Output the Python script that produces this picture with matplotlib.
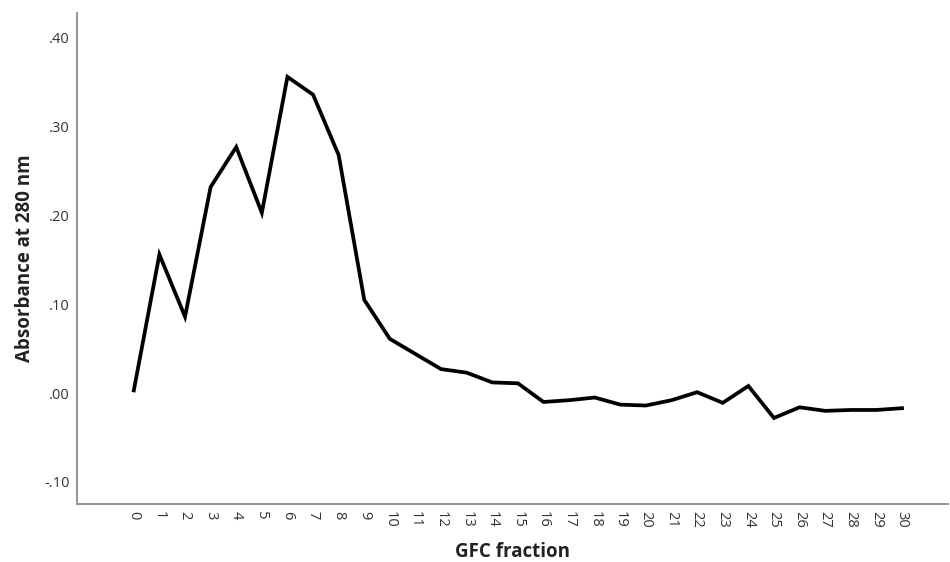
import numpy as np
import matplotlib
matplotlib.use("Agg")
import matplotlib.pyplot as plt
from matplotlib.ticker import FuncFormatter

plt.rcParams['font.family'] = ['Open Sans', 'DejaVu Sans']

fractions = list(range(31))
absorbance = [0.003, 0.156, 0.086, 0.232, 0.277, 0.203, 0.356, 0.336, 0.268, 0.105,
              0.061, 0.044, 0.027, 0.023, 0.012, 0.011, -0.010, -0.008, -0.005, -0.013,
              -0.014, -0.008, 0.001, -0.011, 0.008, -0.028, -0.016, -0.020, -0.019, -0.019,
              -0.017]
y_ticks = [-0.10, 0.00, 0.10, 0.20, 0.30, 0.40]


def spss_fmt(v, pos):
    # SPSS style: no leading zero
    s = f"{v:.2f}"
    return s.replace("0.", ".", 1)


fig = plt.figure(figsize=(9.5, 5.62), dpi=100)
ax = fig.add_axes([0.081, 0.103, 0.917, 0.874])

ax.plot(fractions, absorbance, color="black", lw=2.7, solid_joinstyle="miter")

ax.set_xlim(-2.22, 31.8)
ax.set_ylim(-0.125, 0.428)
ax.set_xticks(fractions)
ax.set_xticklabels([str(f) for f in fractions], rotation=-90, fontsize=10.5, color="#333333")
ax.set_yticks(y_ticks)
ax.yaxis.set_major_formatter(FuncFormatter(spss_fmt))
ax.tick_params(axis="y", labelsize=10.5, labelcolor="#333333", length=0, pad=5)
ax.tick_params(axis="x", length=0, pad=5)

for s in ["top", "right"]:
    ax.spines[s].set_visible(False)
for s in ["left", "bottom"]:
    ax.spines[s].set_color("#999999")
    ax.spines[s].set_linewidth(1.5)

ax.set_xlabel("GFC fraction", fontsize=13.5, fontweight="bold", color="#222222", labelpad=10)
ax.set_ylabel("Absorbance at 280 nm", fontsize=13.5, fontweight="bold", color="#222222")
ax.yaxis.set_label_coords(-0.048, 0.5)

fig.savefig("out.png", dpi=100)
